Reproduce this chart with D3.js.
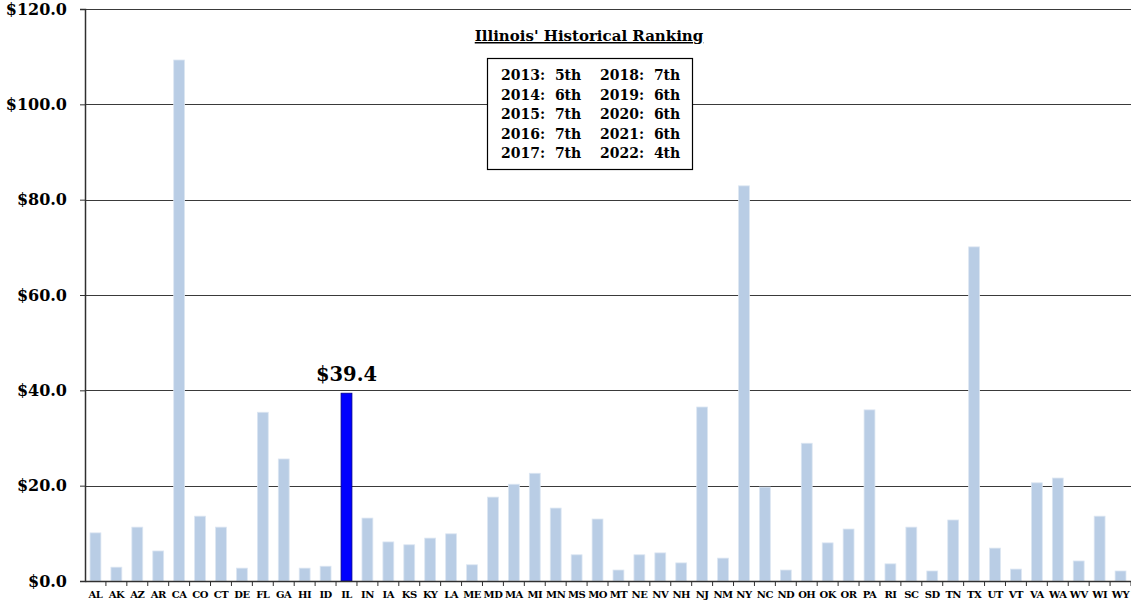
<!DOCTYPE html>
<meta charset="utf-8">
<script src="https://d3js.org/d3.v7.min.js"></script>
<style>
  body { margin: 0; background: #fff; }
  text { font-family: "DejaVu Serif", serif; font-weight: bold; }
</style>
<div id="chart"></div>
<script>
// state codes and values ($ billions)
var states = ["AL","AK","AZ","AR","CA","CO","CT","DE","FL","GA","HI","ID","IL","IN","IA","KS","KY","LA","ME","MD",
  "MA","MI","MN","MS","MO","MT","NE","NV","NH","NJ","NM","NY","NC","ND","OH","OK","OR","PA","RI","SC",
  "SD","TN","TX","UT","VT","VA","WA","WV","WI","WY"];
var values = [10.1,2.9,11.3,6.3,109.3,13.6,11.3,2.7,35.4,25.6,2.7,3.1,39.4,13.2,8.2,7.6,9.0,9.9,3.4,17.6,
  20.3,22.6,15.3,5.5,13.0,2.3,5.5,5.9,3.8,36.5,4.8,82.9,19.7,2.3,28.9,8.0,10.9,35.9,3.6,11.3,
  2.1,12.8,70.1,6.9,2.5,20.6,21.6,4.2,13.6,2.1];
var yTicks = [0, 20, 40, 60, 80, 100, 120];
var highlight = "IL";
var rankTitle = "Illinois' Historical Ranking";
var rankLeft = ["2013:  5th", "2014:  6th", "2015:  7th", "2016:  7th", "2017:  7th"];
var rankRight = ["2018:  7th", "2019:  6th", "2020:  6th", "2021:  6th", "2022:  4th"];

var W = 1131, H = 607;
var margin = {top: 9, right: 0, bottom: 26, left: 85};
var width = W - margin.left - margin.right,
    height = H - margin.top - margin.bottom;

var svg = d3.select("#chart").append("svg")
  .attr("width", W).attr("height", H);
var g = svg.append("g")
  .attr("transform", "translate(" + margin.left + "," + margin.top + ")");

var x = d3.scaleBand().domain(states).range([0, width]).paddingInner(0.48).paddingOuter(0.24);
var xb = d3.scaleBand().domain(states).range([0, width]);
var y = d3.scaleLinear().domain([0, 120]).range([height, 0]);

// gridlines
g.selectAll(".grid").data(yTicks.slice(1)).enter().append("line")
  .attr("x1", 0).attr("x2", width)
  .attr("y1", function(d) { return Math.round(y(d)) + 0.5; }).attr("y2", function(d) { return Math.round(y(d)) + 0.5; })
  .attr("stroke", "#3a3a3a").attr("stroke-width", 1.2);

// bars
g.selectAll(".bar").data(states).enter().append("rect")
  .attr("x", function(d) { return x(d); })
  .attr("width", x.bandwidth())
  .attr("y", function(d, i) { return y(values[i]); })
  .attr("height", function(d, i) { return height - y(values[i]); })
  .attr("fill", function(d) { return d == highlight ? "#0000ff" : "#b9cde5"; })
  .attr("stroke", function(d) { return d == highlight ? "#00008b" : "#dce6f2"; })
  .attr("stroke-width", 0.8);

// y axis
var yAxis = g.append("g")
  .call(d3.axisLeft(y).tickValues(yTicks).tickSize(5).tickPadding(13)
    .tickFormat(function(d) { return "$" + d3.format(".1f")(d); }));
yAxis.select(".domain").attr("stroke", "#303030").attr("stroke-width", 1.5);
yAxis.selectAll(".tick line").attr("stroke", "#303030");
yAxis.selectAll("text").style("font-size", "16px").attr("fill", "#000");

// x axis, ticks between categories
var xAxis = g.append("g").attr("transform", "translate(0," + height + ")")
  .call(d3.axisBottom(xb).tickSize(0).tickPadding(10));
xAxis.select(".domain").attr("stroke", "#303030").attr("stroke-width", 1.5);
xAxis.selectAll("text").style("font-size", "10px").style("letter-spacing", "-0.5px").attr("fill", "#000");
xAxis.selectAll(".sep").data(states).enter().append("line")
  .attr("x1", function(d) { return xb(d) + xb.bandwidth(); })
  .attr("x2", function(d) { return xb(d) + xb.bandwidth(); })
  .attr("y1", 0).attr("y2", 5).attr("stroke", "#303030");

// highlight label
var hi = states.indexOf(highlight);
g.append("text")
  .attr("x", x(highlight) + x.bandwidth() / 2)
  .attr("y", y(values[hi]) - 12)
  .attr("text-anchor", "middle")
  .style("font-size", "19.5px")
  .text("$" + values[hi].toFixed(1));

// ranking box
svg.append("text")
  .attr("x", 589).attr("y", 41)
  .attr("text-anchor", "middle")
  .attr("text-decoration", "underline")
  .style("font-size", "15px")
  .text(rankTitle);

svg.append("rect")
  .attr("x", 487.5).attr("y", 58.5).attr("width", 205).attr("height", 111)
  .attr("fill", "#fff").attr("stroke", "#000").attr("stroke-width", 1.2);

rankLeft.forEach(function(t, i) {
  svg.append("text").attr("x", 501).attr("y", 80 + i * 19.5)
    .style("font-size", "14px").style("white-space", "pre").attr("xml:space", "preserve").text(t);
});
rankRight.forEach(function(t, i) {
  svg.append("text").attr("x", 600).attr("y", 80 + i * 19.5)
    .style("font-size", "14px").style("white-space", "pre").attr("xml:space", "preserve").text(t);
});
</script>
